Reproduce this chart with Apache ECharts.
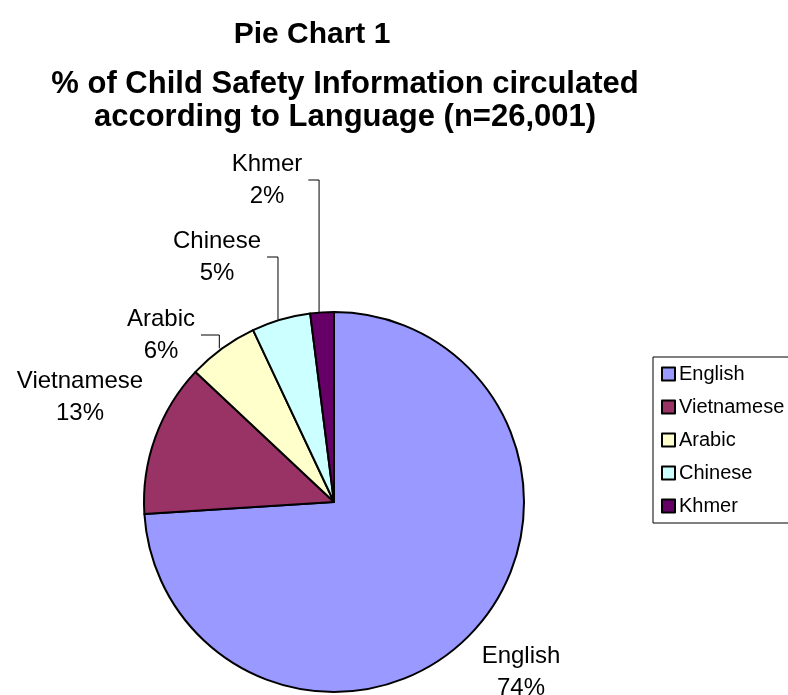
<!DOCTYPE html>
<html>
<head>
<meta charset="utf-8">
<script src="https://cdn.jsdelivr.net/npm/echarts@6/dist/echarts.min.js"></script>
<style>
  html, body { margin: 0; padding: 0; background: #fff; }
  #chart { width: 788px; height: 695px; }
</style>
</head>
<body>
<div id="chart"></div>
<script>
// Languages and their share of circulated child safety information (%)
var languages = ['English', 'Vietnamese', 'Arabic', 'Chinese', 'Khmer'];
var shares = [74, 13, 6, 5, 2];
var sliceColors = ['#9999FF', '#993366', '#FFFFCC', '#CCFFFF', '#660066'];
// Which slices get a leader line from their label
var showLeader = [false, false, true, true, true];

var FONT = "'Liberation Sans', Arial, sans-serif";

// Label block centres (pixels) for each slice label
var labelCentres = [[521, 672], [80, 397], [161, 335], [217, 257], [267, 180]];

var chart = echarts.init(document.getElementById('chart'), null, { renderer: 'canvas' });

var data = languages.map(function (name, i) {
  return {
    name: name,
    value: shares[i],
    itemStyle: { color: sliceColors[i] },
    labelLine: { show: showLeader[i] }
  };
});

chart.setOption({
  animation: false,
  backgroundColor: '#ffffff',
  title: [
    {
      text: 'Pie Chart 1',
      left: 307, top: 15, textAlign: 'center',
      textStyle: { fontFamily: FONT, fontSize: 30, fontWeight: 'bold', color: '#000' }
    },
    {
      text: '% of Child Safety Information circulated\naccording to Language (n=26,001)',
      left: 340, top: 63, textAlign: 'center',
      textStyle: { fontFamily: FONT, fontSize: 31, fontWeight: 'bold', color: '#000', lineHeight: 33 }
    }
  ],
  legend: {
    orient: 'vertical',
    left: 653, top: 357,
    padding: [7, 12, 7, 8],
    itemGap: 13,
    itemWidth: 13, itemHeight: 13,
    icon: 'rect',
    borderColor: '#000', borderWidth: 1,
    itemStyle: { borderColor: '#000', borderWidth: 2 },
    textStyle: { fontFamily: FONT, fontSize: 20, color: '#000', lineHeight: 20, padding: [0, 0, 0, -1] },
    data: languages
  },
  series: [{
    type: 'pie',
    center: [334, 502],
    radius: 190,
    startAngle: 90,
    clockwise: true,
    avoidLabelOverlap: false,
    itemStyle: { borderColor: '#000', borderWidth: 2 },
    emphasis: { disabled: true },
    label: {
      show: true,
      position: 'outside',
      formatter: '{b}\n{c}%',
      fontFamily: FONT, fontSize: 24, color: '#000', lineHeight: 32
    },
    labelLine: {
      show: true, length: 10, length2: 10,
      lineStyle: { color: '#000', width: 1 }
    },
    labelLayout: function (p) {
      var c = labelCentres[p.dataIndex];
      var out = { x: c[0], y: c[1], align: 'center', verticalAlign: 'middle' };
      if (showLeader[p.dataIndex] && p.labelLinePoints) {
        var edge = p.labelLinePoints[0];
        var start = c[0] + p.labelRect.width / 2 + 6;
        out.labelLinePoints = [[start, c[1]], [edge[0] - 3, c[1]], [edge[0] - 3, edge[1]]];
      }
      return out;
    },
    data: data
  }]
});
</script>
</body>
</html>
